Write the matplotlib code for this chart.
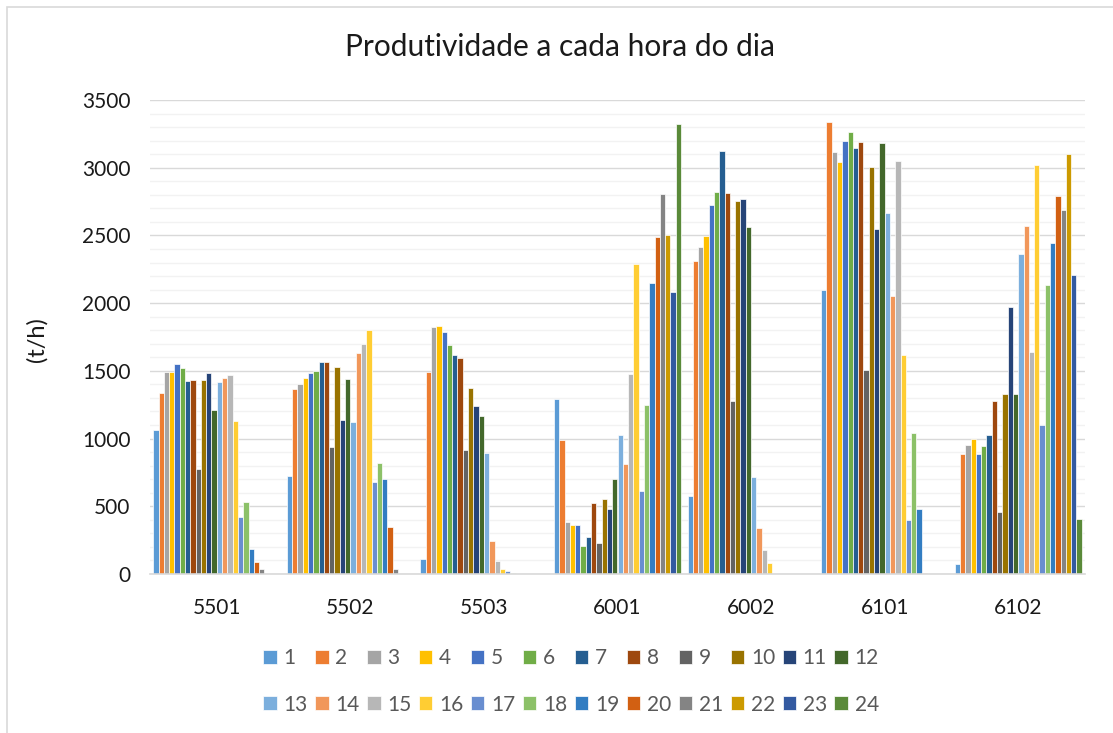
import matplotlib
matplotlib.use('Agg')
import matplotlib.pyplot as plt
import matplotlib.patches as mpatches
import numpy as np

# categorias (equipamentos) e horas do dia
categories = ['5501', '5502', '5503', '6001', '6002', '6101', '6102']
hours = [str(h) for h in range(1, 25)]

# produtividade (t/h) por hora, uma lista por equipamento
h5501 = [1060, 1335, 1490, 1495, 1548, 1519, 1425, 1430, 775, 1432, 1484, 1208,
         1415, 1450, 1469, 1132, 418, 529, 187, 89, 39, 0, 0, 0]
h5502 = [724, 1366, 1405, 1450, 1484, 1501, 1565, 1563, 938, 1526, 1140, 1442,
         1122, 1629, 1698, 1802, 679, 817, 699, 345, 39, 0, 0, 0]
h5503 = [111, 1489, 1824, 1829, 1787, 1691, 1617, 1597, 916, 1373, 1238, 1169,
         896, 241, 94, 34, 22, 10, 0, 0, 0, 0, 0, 0]
h6001 = [1292, 989, 381, 364, 362, 209, 273, 522, 229, 554, 480, 704,
         1026, 810, 1474, 2289, 613, 1248, 2151, 2491, 2806, 2501, 2082, 3323]
h6002 = [576, 2311, 2414, 2498, 2722, 2823, 3121, 2813, 1280, 2754, 2771, 2560,
         716, 340, 177, 84, 0, 0, 0, 0, 0, 0, 0, 0]
h6101 = [2094, 3337, 3118, 3042, 3197, 3264, 3148, 3192, 1509, 3003, 2547, 3182,
         2666, 2050, 3052, 1620, 396, 1039, 480, 5, 0, 0, 0, 0]
h6102 = [74, 886, 953, 997, 884, 943, 1024, 1275, 455, 1327, 1969, 1327,
         2363, 2567, 1639, 3020, 1103, 2134, 2446, 2791, 2690, 3099, 2205, 404]

table = np.array([h5501, h5502, h5503, h6001, h6002, h6101, h6102])

colors = ['#5B9BD5', '#ED7D31', '#A5A5A5', '#FFC000', '#4472C4', '#70AD47',
          '#255E91', '#9E480E', '#636363', '#997300', '#264478', '#43682B',
          '#7CAFDD', '#F1975A', '#B7B7B7', '#FFCD33', '#698ED0', '#8CC168',
          '#327DC2', '#D26012', '#848484', '#CC9A00', '#335AA1', '#5A8A39']

plt.rcParams['font.family'] = ['Lato', 'DejaVu Sans']

fig = plt.figure(figsize=(11.13, 7.33), dpi=100)
ax = fig.add_axes([150 / 1113, 1 - 574 / 733, 935 / 1113, 474 / 733])

x = np.arange(len(categories))
n = len(hours)
w = 0.95 / n
bars = []
for j in range(n):
    b = ax.bar(x + (j - (n - 1) / 2) * w, table[:, j], width=w, color=colors[j],
               edgecolor='white', linewidth=0.5, label=hours[j], zorder=3)
    bars.append(b)

ax.set_xlim(-0.5, len(categories) - 0.5)
ax.set_ylim(0, 3500)
ax.set_yticks(np.arange(0, 3501, 500))
ax.set_yticks(np.arange(0, 3501, 100), minor=True)
ax.set_xticks(x)
ax.set_xticklabels(categories)
ax.grid(axis='y', which='major', color='#D9D9D9', linewidth=1.0, zorder=1)
ax.grid(axis='y', which='minor', color='#F2F2F2', linewidth=1.0, zorder=0)
ax.tick_params(axis='both', which='both', length=0, labelsize=15, colors='#1a1a1a')
ax.tick_params(axis='y', pad=14)
ax.tick_params(axis='x', pad=17)
for s in ['top', 'right', 'left']:
    ax.spines[s].set_visible(False)
ax.spines['bottom'].set_color('#D9D9D9')
ax.spines['bottom'].set_linewidth(1.2)
ax.spines['bottom'].set_zorder(4)

fig.text(560 / 1113, 1 - 47 / 733, 'Produtividade a cada hora do dia',
         ha='center', va='center', fontsize=21.5, color='#1a1a1a')
fig.text(37 / 1113, 1 - 340 / 733, '(t/h)', rotation=90, ha='center',
         va='center', fontsize=17, color='#1a1a1a')

# legenda preenchida por linhas (1-12 em cima, 13-24 em baixo)
order = []
for c in range(12):
    order += [c, c + 12]
leg = fig.legend([bars[i] for i in order], [hours[i] for i in order],
                 loc='center', bbox_to_anchor=(571 / 1113, 1 - 681.5 / 733),
                 ncol=12, frameon=False, fontsize=15, handlelength=0.65,
                 handleheight=0.65, handletextpad=0.32, columnspacing=0.36,
                 labelspacing=1.25)
for t in leg.get_texts():
    t.set_color('#595959')

# moldura do gráfico
fig.add_artist(mpatches.Rectangle((7 / 1113, -0.1), 1.2, 1 - 7 / 733 + 0.1,
                                  transform=fig.transFigure, fill=False,
                                  edgecolor='#D9D9D9', linewidth=1.2))

plt.savefig('out.png', dpi=100)
